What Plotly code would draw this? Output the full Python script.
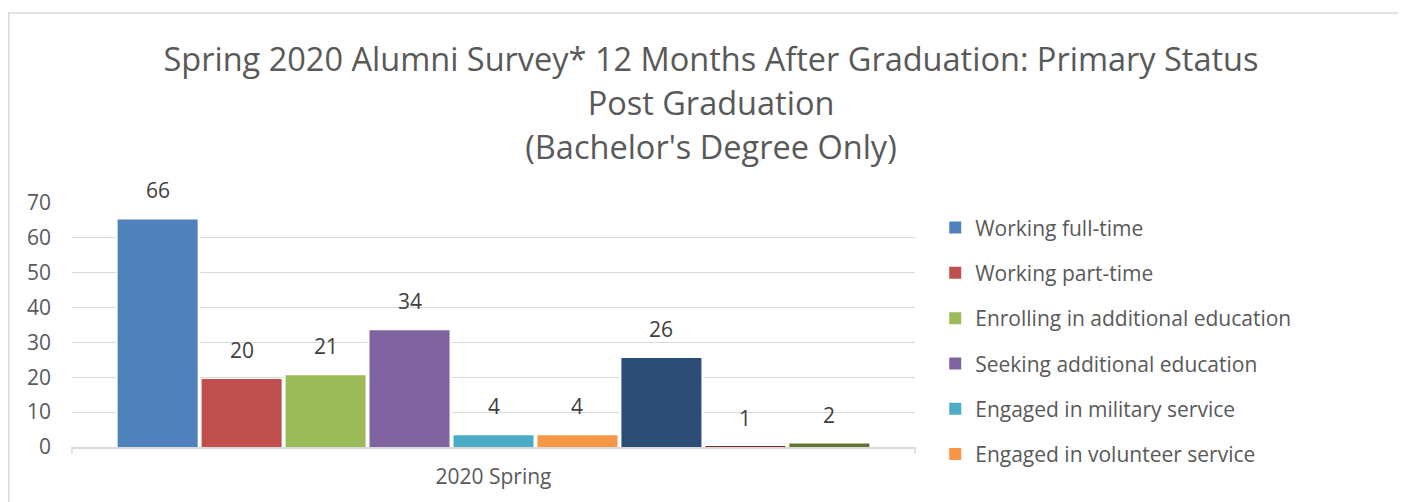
import plotly.graph_objects as go

# survey results, one bar per status
statuses = [
    "Working full-time",
    "Working part-time",
    "Enrolling in additional education",
    "Seeking additional education",
    "Engaged in military service",
    "Engaged in volunteer service",
    "Seeking employment",
    "Not seeking employment or education",
    "Other",
]
values = [65.3, 19.5, 20.6, 33.5, 3.4, 3.4, 25.5, 0.1, 1.0]
labels = ["66", "20", "21", "34", "4", "4", "26", "1", "2"]
colors = ["#4F81BD", "#C0504D", "#9BBB59", "#8064A2", "#4BACC6",
          "#F79646", "#2C4D75", "#772C2A", "#5F7530"]
category = "2020 Spring"
n_legend = 6  # the legend box only has room for the first six entries

FONT = "Open Sans"
GREY = "#595959"

fig = go.Figure()

# white halo behind bars so the gridlines stop short of each bar
fig.add_trace(go.Bar(
    x=list(range(len(values))), y=values, width=1.0,
    marker=dict(color="white", line=dict(width=0)),
    showlegend=False, hoverinfo="skip"))

for i, (name, v, c) in enumerate(zip(statuses, values, colors)):
    fig.add_trace(go.Bar(
        x=[i], y=[v], name=name, width=0.953,
        marker=dict(color=c, line=dict(width=0)),
        legendgroup=name, showlegend=i < n_legend))

for i, (v, t) in enumerate(zip(values, labels)):
    fig.add_annotation(x=i, y=v, text=t, showarrow=False, yshift=29,
                       font=dict(family=FONT, size=21, color="#404040"))

# category-axis tick marks at both ends
for xd in (0, 1):
    fig.add_shape(type="line", xref="x domain", yref="paper",
                  x0=xd, x1=xd, y0=0, y1=-0.027,
                  line=dict(color="#D9D9D9", width=1.5))

# chart-area border (only top & left visible in the frame)
fig.add_shape(type="rect", xref="paper", yref="paper",
              x0=-0.0749, x1=1.7, y0=-0.6, y1=1.779,
              line=dict(color="#D9D9D9", width=1.5), layer="below")

title_lines = ["Spring 2020 Alumni Survey* 12 Months After Graduation: Primary Status",
               "Post Graduation",
               "(Bachelor's Degree Only)"]
title_text = "<br>".join('<span style="font-size:32.5px">%s</span>' % s
                         for s in title_lines)

fig.update_layout(
    width=1406, height=502,
    margin=dict(l=64, r=499, t=195, b=63, autoexpand=False),
    paper_bgcolor="white", plot_bgcolor="white",
    barmode="overlay",
    font=dict(family=FONT, size=21, color=GREY),
    title=dict(
        text=title_text,
        x=0.5, xanchor="center", xref="container",
        y=0.875, yanchor="top", yref="container",
        font=dict(family=FONT, size=34, color=GREY)),
    legend=dict(x=1.024, xanchor="left", y=0.982, yanchor="top",
                font=dict(family=FONT, size=21, color=GREY),
                tracegroupgap=15, itemclick=False, maxheight=1000),
    xaxis=dict(range=[-1.02, 9.02], tickvals=[4], ticktext=[category],
               showgrid=False, zeroline=False, ticks="",
               showline=True, linecolor="#D9D9D9", linewidth=2,
               ticklabelstandoff=10, fixedrange=True),
    yaxis=dict(range=[0, 70], dtick=10, showgrid=True,
               gridcolor="#D9D9D9", gridwidth=1.3, zeroline=False,
               ticks="", ticklabelstandoff=20, fixedrange=True),
)

fig.write_html("out.html")
